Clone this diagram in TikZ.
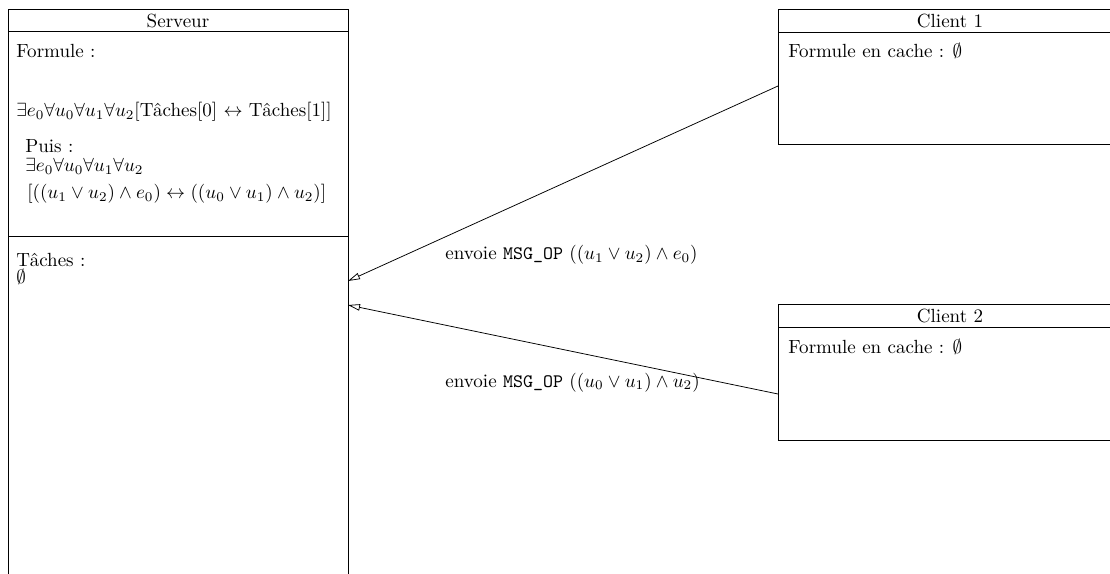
\documentclass[tikz,border=0pt]{standalone}
\usetikzlibrary{arrows.meta,fit}

\begin{document}
\begin{tikzpicture}[x=0.525pt,y=-0.525pt,
  frame/.style={draw, line width=0.5pt, inner sep=0pt},
  sep/.style={line width=0.5pt},
  txt/.style={anchor=base west, inner sep=0pt, font=\fontsize{10}{12}\selectfont},
  title/.style={anchor=base, inner sep=0pt, font=\fontsize{10}{12}\selectfont},
  msg/.style={line width=0.4pt, -{Triangle[open, length=6.3pt, width=3.4pt]}},
  lbl/.style={anchor=base west, inner sep=0pt, font=\fontsize{10}{12}\selectfont}]
\useasboundingbox (0,0) rectangle (1110,574);

% server box (runs past the lower edge)
\node[frame, fit={(8,9) (348,620)}] (srv) {};
\draw[sep] (8,31) -- (348,31);
\draw[sep] (8,236) -- (348,236);
\node[title] (srvtitle) at (178,28) {Serveur};
\node[txt] (formule) at (16,58) {Formule :};
\node[txt] (f1) at (16,117) {$\exists e_0\forall u_0\forall u_1\forall u_2[$Tâches[0] $\leftrightarrow$ Tâches[1]$]$};
\node[txt] (puis) at (25,153) {Puis :};
\node[txt] (f2a) at (25,172) {$\exists e_0\forall u_0\forall u_1\forall u_2$};
\node[txt] (f2b) at (27,199) {$[((u_1\vee u_2)\wedge e_0)\leftrightarrow((u_0\vee u_1)\wedge u_2)]$};
\node[txt] (taches) at (16,267) {Tâches :};
\node[txt] (tempty) at (16,284) {$\emptyset$};

% client 1
\node[frame, fit={(778,9) (1122,144)}] (client1) {};
\draw[sep] (778,32) -- (1122,32);
\node[title] (c1title) at (950,28) {Client 1};
\node[txt] (c1cache) at (788,58) {Formule en cache : $\emptyset$};

% client 2
\node[frame, fit={(778,304) (1122,440)}] (client2) {};
\draw[sep] (778,327) -- (1122,327);
\node[title] (c2title) at (950,322) {Client 2};
\node[txt] (c2cache) at (788,353) {Formule en cache : $\emptyset$};

% message ports on the box edges
\coordinate (c1out) at (778,86);
\coordinate (c2out) at (778,394);
\coordinate (srvin1) at (348,281);
\coordinate (srvin2) at (348,305);

\draw[msg] (c1out) -- (srvin1);
\draw[msg] (c2out) -- (srvin2);

\node[lbl] (m1) at (445,260) {envoie \texttt{MSG\_OP} $((u_1\vee u_2)\wedge e_0)$};
\node[lbl] (m2) at (445,387) {envoie \texttt{MSG\_OP} $((u_0\vee u_1)\wedge u_2)$};
\end{tikzpicture}
\end{document}
